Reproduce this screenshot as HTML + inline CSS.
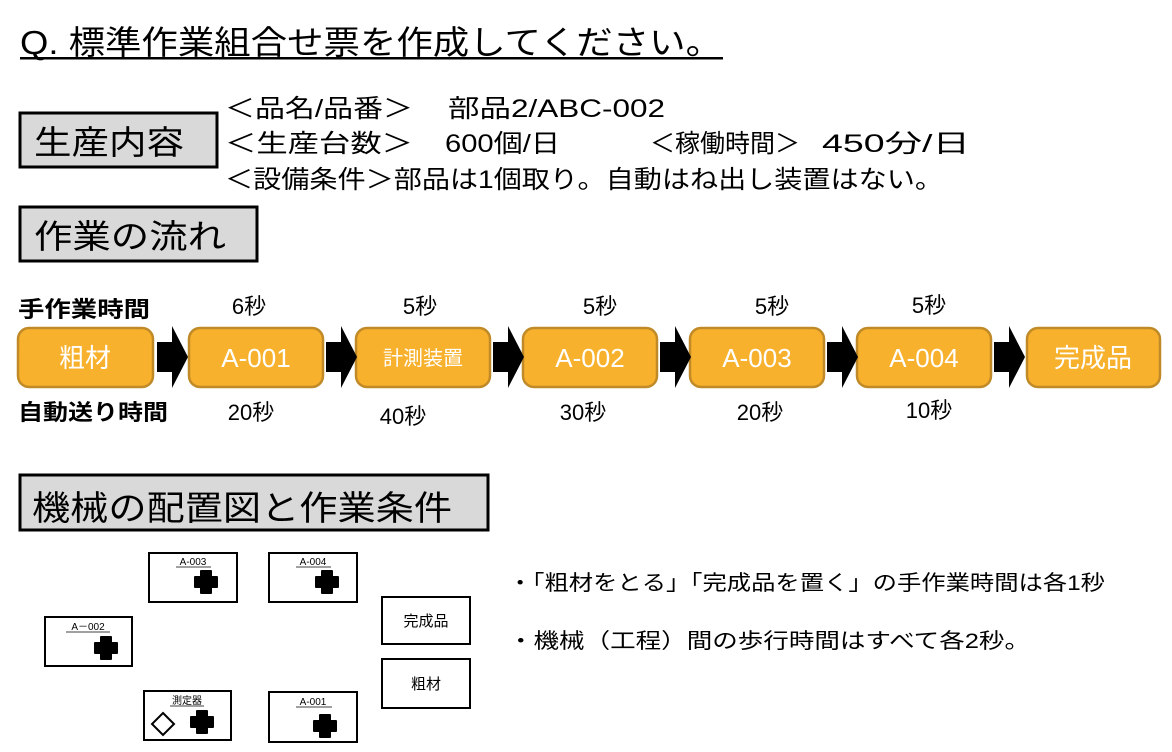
<!DOCTYPE html>
<html><head><meta charset="utf-8"><style>
html,body{margin:0;padding:0;background:#fff;}
svg{display:block;}
text{font-family:"Liberation Sans","Noto Sans CJK JP",sans-serif;}
</style></head><body>
<svg width="1172" height="752" viewBox="0 0 1172 752" xmlns="http://www.w3.org/2000/svg">
<!-- title -->
<text x="20" y="54" font-size="33" fill="#000" textLength="702" lengthAdjust="spacingAndGlyphs">Q. 標準作業組合せ票を作成してください。</text>
<rect x="20" y="57" width="703" height="2.5" fill="#000"/>

<!-- 生産内容 -->
<rect x="20" y="113" width="197" height="54" fill="#d9d9d9" stroke="#000" stroke-width="3"/>
<text x="34" y="154" font-size="33" textLength="150" lengthAdjust="spacingAndGlyphs">生産内容</text>
<text x="225" y="117" font-size="25" textLength="188" lengthAdjust="spacingAndGlyphs">＜品名/品番＞</text>
<text x="448" y="117" font-size="25" textLength="217" lengthAdjust="spacingAndGlyphs">部品2/ABC-002</text>
<text x="225" y="152" font-size="25" textLength="188" lengthAdjust="spacingAndGlyphs">＜生産台数＞</text>
<text x="445" y="152" font-size="25" textLength="115" lengthAdjust="spacingAndGlyphs">600個/日</text>
<text x="650" y="152" font-size="25" textLength="150" lengthAdjust="spacingAndGlyphs">＜稼働時間＞</text>
<text x="822" y="152" font-size="25" textLength="148" lengthAdjust="spacingAndGlyphs">450分/日</text>
<text x="225" y="188" font-size="25" textLength="718" lengthAdjust="spacingAndGlyphs">＜設備条件＞部品は1個取り。自動はね出し装置はない。</text>

<!-- 作業の流れ -->
<rect x="20" y="207" width="237" height="54" fill="#d9d9d9" stroke="#000" stroke-width="3"/>
<text x="34" y="248" font-size="33" textLength="192" lengthAdjust="spacingAndGlyphs">作業の流れ</text>

<text x="18" y="317" font-size="22" font-weight="bold" textLength="132" lengthAdjust="spacingAndGlyphs">手作業時間</text>
<text x="18" y="420" font-size="22" font-weight="bold" textLength="150" lengthAdjust="spacingAndGlyphs">自動送り時間</text>

<g font-size="22" text-anchor="middle">
<text x="249" y="314">6秒</text>
<text x="420" y="314">5秒</text>
<text x="600" y="314">5秒</text>
<text x="772" y="314">5秒</text>
<text x="929" y="313">5秒</text>
<text x="251" y="420">20秒</text>
<text x="403" y="424">40秒</text>
<text x="583" y="420">30秒</text>
<text x="760" y="420">20秒</text>
<text x="929" y="418">10秒</text>
</g>

<!-- flow boxes -->
<g fill="#F8B12C" stroke="#C08A28" stroke-width="2.5">
<rect x="18" y="328" width="135" height="59" rx="11"/>
<rect x="189" y="328" width="134" height="59" rx="11"/>
<rect x="356" y="328" width="134" height="59" rx="11"/>
<rect x="523" y="328" width="134" height="59" rx="11"/>
<rect x="690" y="328" width="134" height="59" rx="11"/>
<rect x="857" y="328" width="134" height="59" rx="11"/>
<rect x="1027" y="328" width="133" height="59" rx="11"/>
</g>
<g fill="#fff" font-size="26" text-anchor="middle">
<text x="85" y="367">粗材</text>
<text x="256" y="367">A-001</text>
<text x="423" y="365" font-size="20">計測装置</text>
<text x="590" y="367">A-002</text>
<text x="757" y="367">A-003</text>
<text x="924" y="367">A-004</text>
<text x="1093" y="367">完成品</text>
</g>
<!-- arrows -->
<g fill="#000">
<polygon points="157,342 172,342 172,326 188,357 172,388 172,372 157,372"/>
<polygon points="326,342 341,342 341,326 357,357 341,388 341,372 326,372"/>
<polygon points="493,342 508,342 508,326 524,357 508,388 508,372 493,372"/>
<polygon points="660,342 675,342 675,326 691,357 675,388 675,372 660,372"/>
<polygon points="827,342 842,342 842,326 858,357 842,388 842,372 827,372"/>
<polygon points="994,342 1009,342 1009,326 1025,357 1009,388 1009,372 994,372"/>
</g>

<!-- 機械の配置図 -->
<rect x="20" y="475" width="468" height="55" fill="#d9d9d9" stroke="#000" stroke-width="3"/>
<text x="32" y="520" font-size="34" textLength="420" lengthAdjust="spacingAndGlyphs">機械の配置図と作業条件</text>

<defs>
<path id="plus" d="M-5,-12 H5 Q6,-12 6,-11 V-6 H11 Q12,-6 12,-5 V5 Q12,6 11,6 H6 V11 Q6,12 5,12 H-5 Q-6,12 -6,11 V6 H-11 Q-12,6 -12,5 V-5 Q-12,-6 -11,-6 H-6 V-11 Q-6,-12 -5,-12 Z"/>
</defs>
<g fill="#fff" stroke="#000" stroke-width="2">
<rect x="149" y="553" width="88" height="49"/>
<rect x="269" y="553" width="88" height="49"/>
<rect x="45" y="617" width="87" height="49"/>
<rect x="144" y="691" width="87" height="49"/>
<rect x="269" y="692" width="88" height="50"/>
<rect x="382" y="597" width="88" height="47"/>
<rect x="382" y="659" width="88" height="49"/>
</g>
<g font-size="10" text-anchor="middle" fill="#000">
<text x="193" y="565">A-003</text>
<text x="313" y="565">A-004</text>
<text x="88" y="630">A－002</text>
<text x="187" y="704">測定器</text>
<text x="313" y="705">A-001</text>
</g>
<g stroke="#000" stroke-width="0.8">
<line x1="176" y1="567" x2="211" y2="567"/>
<line x1="296" y1="567" x2="331" y2="567"/>
<line x1="66" y1="632" x2="110" y2="632"/>
<line x1="170" y1="706" x2="204" y2="706"/>
<line x1="296" y1="707" x2="332" y2="707"/>
</g>
<g fill="#000">
<use href="#plus" x="206" y="582"/>
<use href="#plus" x="327" y="582"/>
<use href="#plus" x="106" y="648"/>
<use href="#plus" x="202" y="722"/>
<use href="#plus" x="325" y="726"/>
</g>
<polygon points="163,713 174,724 163,735 152,724" fill="#fff" stroke="#000" stroke-width="2"/>
<g font-size="15" text-anchor="middle">
<text x="426" y="626">完成品</text>
<text x="426" y="689">粗材</text>
</g>

<text x="508" y="590" font-size="21" textLength="597" lengthAdjust="spacingAndGlyphs">・「粗材をとる」「完成品を置く」の手作業時間は各1秒</text>
<text x="508" y="648" font-size="21" textLength="522" lengthAdjust="spacingAndGlyphs">・機械（工程）間の歩行時間はすべて各2秒。</text>
</svg>
</body></html>
